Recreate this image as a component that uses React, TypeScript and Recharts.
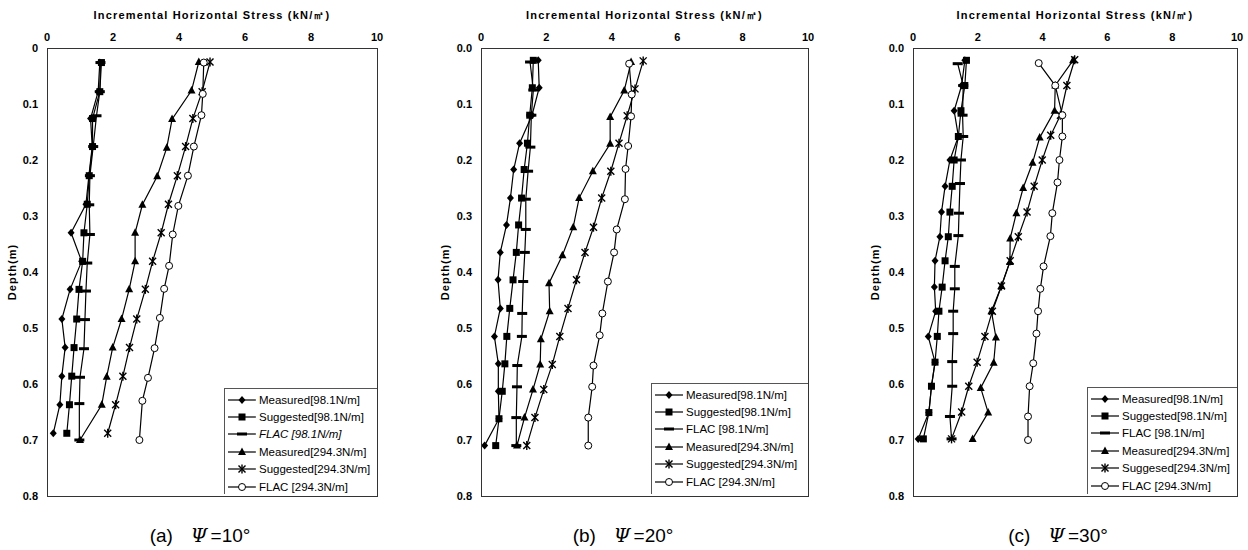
import { ScatterChart, Scatter, XAxis, YAxis } from 'recharts'

type Pt = [number, number] // [stress kN/m2, depth m]

// (a) psi = 10
const measured98A: Pt[] = [[1.6, 0.026], [1.55, 0.078], [1.32, 0.126], [1.37, 0.176], [1.27, 0.228], [1.18, 0.279], [0.73, 0.33], [1.05, 0.381], [0.7, 0.431], [0.45, 0.484], [0.55, 0.535], [0.45, 0.586], [0.39, 0.637], [0.19, 0.688]]
const suggested98A: Pt[] = [[1.65, 0.026], [1.6, 0.078], [1.38, 0.126], [1.38, 0.176], [1.28, 0.228], [1.22, 0.279], [1.12, 0.33], [1.08, 0.381], [0.97, 0.431], [0.9, 0.484], [0.82, 0.535], [0.75, 0.586], [0.68, 0.637], [0.6, 0.688]]
const flac98A: Pt[] = [[1.62, 0.026], [1.6, 0.078], [1.5, 0.121], [1.4, 0.176], [1.3, 0.228], [1.28, 0.28], [1.3, 0.333], [1.22, 0.384], [1.18, 0.434], [1.15, 0.485], [1.12, 0.537], [1.0, 0.588], [0.98, 0.635], [0.98, 0.7]]
const measured294A: Pt[] = [[4.6, 0.025], [4.38, 0.076], [3.79, 0.127], [3.63, 0.178], [3.34, 0.229], [2.89, 0.28], [2.67, 0.33], [2.67, 0.381], [2.49, 0.431], [2.26, 0.484], [1.99, 0.535], [1.81, 0.587], [1.66, 0.637], [1.0, 0.7]]
const suggested294A: Pt[] = [[4.94, 0.025], [4.7, 0.078], [4.42, 0.126], [4.2, 0.176], [3.95, 0.228], [3.68, 0.279], [3.46, 0.33], [3.2, 0.381], [2.98, 0.431], [2.72, 0.484], [2.5, 0.535], [2.3, 0.586], [2.08, 0.637], [1.84, 0.688]]
const flac294A: Pt[] = [[4.75, 0.026], [4.72, 0.082], [4.68, 0.12], [4.45, 0.176], [4.27, 0.228], [3.98, 0.282], [3.81, 0.333], [3.7, 0.389], [3.55, 0.43], [3.42, 0.482], [3.26, 0.536], [3.06, 0.589], [2.89, 0.63], [2.8, 0.7]]

// (b) psi = 20
const measured98B: Pt[] = [[1.75, 0.022], [1.78, 0.071], [1.56, 0.12], [1.18, 0.17], [1.0, 0.217], [0.9, 0.268], [0.78, 0.316], [0.59, 0.365], [0.52, 0.414], [0.59, 0.465], [0.41, 0.515], [0.53, 0.564], [0.53, 0.613], [0.55, 0.662], [0.11, 0.71]]
const suggested98B: Pt[] = [[1.6, 0.022], [1.57, 0.071], [1.49, 0.12], [1.42, 0.17], [1.32, 0.217], [1.24, 0.268], [1.15, 0.316], [1.08, 0.365], [0.98, 0.414], [0.88, 0.465], [0.79, 0.515], [0.73, 0.564], [0.65, 0.613], [0.55, 0.662], [0.45, 0.71]]
const flac98B: Pt[] = [[1.5, 0.025], [1.6, 0.075], [1.54, 0.12], [1.51, 0.177], [1.44, 0.22], [1.37, 0.27], [1.37, 0.324], [1.34, 0.365], [1.29, 0.417], [1.26, 0.474], [1.25, 0.515], [1.11, 0.567], [1.1, 0.605], [1.08, 0.66], [1.08, 0.71]]
const measured294B: Pt[] = [[4.59, 0.025], [4.38, 0.076], [3.95, 0.123], [3.95, 0.171], [3.42, 0.22], [3.0, 0.268], [2.82, 0.32], [2.49, 0.37], [2.08, 0.42], [2.1, 0.47], [1.83, 0.52], [1.81, 0.565], [1.59, 0.61], [1.33, 0.66], [1.1, 0.71]]
const suggested294B: Pt[] = [[4.96, 0.023], [4.71, 0.073], [4.47, 0.121], [4.22, 0.17], [3.97, 0.22], [3.69, 0.268], [3.44, 0.32], [3.18, 0.365], [2.92, 0.414], [2.66, 0.465], [2.41, 0.515], [2.18, 0.565], [1.92, 0.61], [1.65, 0.66], [1.4, 0.71]]
const flac294B: Pt[] = [[4.53, 0.028], [4.61, 0.083], [4.59, 0.122], [4.5, 0.175], [4.42, 0.216], [4.4, 0.27], [4.15, 0.324], [4.07, 0.365], [3.88, 0.417], [3.71, 0.474], [3.63, 0.513], [3.44, 0.567], [3.4, 0.605], [3.28, 0.66], [3.28, 0.71]]

// (c) psi = 30
const measured98C: Pt[] = [[1.6, 0.022], [1.5, 0.067], [1.27, 0.112], [1.4, 0.158], [1.14, 0.2], [0.99, 0.247], [0.88, 0.293], [0.83, 0.337], [0.68, 0.38], [0.66, 0.427], [0.7, 0.47], [0.47, 0.515], [0.68, 0.561], [0.57, 0.604], [0.49, 0.651], [0.16, 0.698]]
const suggested98C: Pt[] = [[1.65, 0.022], [1.6, 0.067], [1.48, 0.112], [1.4, 0.158], [1.27, 0.2], [1.21, 0.247], [1.14, 0.293], [1.09, 0.337], [0.99, 0.38], [0.9, 0.427], [0.8, 0.47], [0.75, 0.515], [0.68, 0.561], [0.57, 0.604], [0.49, 0.651], [0.32, 0.698]]
const flac98C: Pt[] = [[1.38, 0.028], [1.55, 0.067], [1.53, 0.12], [1.55, 0.158], [1.48, 0.2], [1.45, 0.242], [1.42, 0.295], [1.4, 0.335], [1.29, 0.39], [1.29, 0.43], [1.24, 0.47], [1.24, 0.51], [1.21, 0.56], [1.21, 0.604], [1.14, 0.658], [1.19, 0.698]]
const measured294C: Pt[] = [[4.94, 0.022], [4.39, 0.067], [4.37, 0.112], [3.91, 0.16], [3.69, 0.205], [3.4, 0.25], [3.19, 0.295], [3.0, 0.34], [2.99, 0.382], [2.73, 0.425], [2.42, 0.47], [2.56, 0.517], [2.49, 0.562], [2.09, 0.607], [2.32, 0.651], [1.84, 0.698]]
const suggested294C: Pt[] = [[4.99, 0.021], [4.75, 0.067], [4.55, 0.12], [4.25, 0.156], [3.99, 0.2], [3.74, 0.247], [3.52, 0.293], [3.25, 0.337], [3.0, 0.38], [2.73, 0.425], [2.45, 0.47], [2.22, 0.515], [1.98, 0.561], [1.72, 0.604], [1.5, 0.65], [1.19, 0.698]]
const flac294C: Pt[] = [[3.88, 0.027], [4.39, 0.067], [4.61, 0.12], [4.61, 0.158], [4.52, 0.2], [4.46, 0.24], [4.3, 0.295], [4.24, 0.336], [4.03, 0.39], [3.93, 0.43], [3.86, 0.47], [3.81, 0.51], [3.71, 0.563], [3.6, 0.604], [3.55, 0.658], [3.55, 0.7]]

const stressTicks = [0, 2, 4, 6, 8, 10]
const depthTicks = [0, 0.1, 0.2, 0.3, 0.4, 0.5, 0.6, 0.7, 0.8]
const labelsAB = ['Measured[98.1N/m]', 'Suggested[98.1N/m]', 'FLAC [98.1N/m]', 'Measured[294.3N/m]', 'Suggested[294.3N/m]', 'FLAC [294.3N/m]']
const labelsC = ['Measured[98.1N/m]', 'Suggested[98.1N/m]', 'FLAC [98.1N/m]', 'Measured[294.3N/m]', 'Suggesed[294.3N/m]', 'FLAC [294.3N/m]']
const markers = ['diamond', 'square', 'dash', 'triangle', 'star', 'circle']

const FONT = '"Liberation Sans", Arial, sans-serif'

function Marker({ kind, cx, cy }: { kind: string; cx: number; cy: number }) {
  switch (kind) {
    case 'diamond':
      return <polygon points={`${cx},${cy - 4} ${cx + 3.5},${cy} ${cx},${cy + 4} ${cx - 3.5},${cy}`} fill="#000" />
    case 'square':
      return <rect x={cx - 3.5} y={cy - 3.5} width={7} height={7} fill="#000" />
    case 'dash':
      return <rect x={cx - 5} y={cy - 1.5} width={10} height={3} fill="#000" />
    case 'triangle':
      return <polygon points={`${cx},${cy - 4.5} ${cx + 4},${cy + 3} ${cx - 4},${cy + 3}`} fill="#000" />
    case 'star':
      return (
        <g stroke="#000" strokeWidth={1.4}>
          <line x1={cx - 3.5} y1={cy - 3.5} x2={cx + 3.5} y2={cy + 3.5} />
          <line x1={cx - 3.5} y1={cy + 3.5} x2={cx + 3.5} y2={cy - 3.5} />
          <line x1={cx} y1={cy - 4.5} x2={cx} y2={cy + 4.5} />
        </g>
      )
    default:
      return <circle cx={cx} cy={cy} r={3.5} fill="#fff" stroke="#000" strokeWidth={1} />
  }
}

interface PanelProps {
  left: number
  width: number
  plotLeft: number
  plotRight: number
  series: Pt[][]
  labels: string[]
  italicFlac?: boolean
  zeroLabel: string
  depthLabelX: number
  legendLeft: number
  legendTop: number
  caption: string
  angle: string
  captionCenter: number
}

function Panel(p: PanelProps) {
  const plotTop = 48
  const plotBottom = 496
  const yWidth = p.plotLeft - p.left
  const right = p.width - (p.plotRight - p.left)
  return (
    <>
      <div style={{ position: 'absolute', left: p.left, top: 0 }}>
        <ScatterChart width={p.width} height={550} margin={{ top: 18, right, bottom: 550 - plotBottom, left: 0 }}>
          <XAxis
            type="number"
            dataKey="x"
            orientation="top"
            domain={[0, 10]}
            ticks={stressTicks}
            height={plotTop - 18}
            axisLine={false}
            tickLine={false}
            tickSize={5}
            tickMargin={2}
            allowDataOverflow
            tick={{ fontSize: 11, fill: '#000', fontWeight: 'bold', fontFamily: FONT }}
          />
          <YAxis
            type="number"
            dataKey="y"
            domain={[0, 0.8]}
            reversed
            ticks={depthTicks}
            width={yWidth}
            axisLine={false}
            tickLine={false}
            tickSize={4}
            tickMargin={5}
            allowDataOverflow
            tickFormatter={(v: number) => (v === 0 ? p.zeroLabel : v.toFixed(1))}
            tick={{ fontSize: 11, fill: '#000', fontWeight: 'bold', fontFamily: FONT }}
          />
          {p.series.map((pts, i) => (
            <Scatter
              key={i}
              name={p.labels[i]}
              data={pts.map(([x, y]) => ({ x, y }))}
              fill="#000"
              line={{ stroke: '#000', strokeWidth: 1.2 }}
              lineType="joint"
              isAnimationActive={false}
              shape={(s: any) => <Marker kind={markers[i]} cx={s.cx} cy={s.cy} />}
            />
          ))}
        </ScatterChart>
      </div>
      {/* plot frame */}
      <div
        style={{
          position: 'absolute',
          left: p.plotLeft,
          top: plotTop,
          width: p.plotRight - p.plotLeft + 1,
          height: plotBottom - plotTop + 1,
          border: '1.3px solid #333',
          boxSizing: 'border-box',
          pointerEvents: 'none',
        }}
      />
      <div
        style={{
          position: 'absolute',
          left: p.plotLeft,
          width: p.plotRight - p.plotLeft,
          top: 8,
          textAlign: 'center',
          fontFamily: FONT,
          fontWeight: 'bold',
          fontSize: 11,
          letterSpacing: 1.2,
          whiteSpace: 'nowrap',
        }}
      >
        Incremental Horizontal Stress (kN/㎡)
      </div>
      <div
        style={{
          position: 'absolute',
          left: p.depthLabelX - 40,
          top: 266,
          width: 80,
          textAlign: 'center',
          transform: 'rotate(-90deg)',
          fontFamily: FONT,
          fontWeight: 'bold',
          fontSize: 11,
          letterSpacing: 1,
        }}
      >
        Depth(m)
      </div>
      <div
        style={{
          position: 'absolute',
          left: p.legendLeft,
          top: p.legendTop,
          width: p.plotRight - p.legendLeft,
          height: plotBottom - p.legendTop - 2,
          border: '1px solid #555',
          borderRight: 'none',
          borderBottom: 'none',
          background: '#fff',
          boxSizing: 'border-box',
          padding: '2px 0 0 3px',
        }}
      >
        {p.labels.map((label, i) => (
          <div key={label} style={{ display: 'flex', alignItems: 'center', height: 17.4 }}>
            <svg width={30} height={12}>
              <line x1={0} y1={6} x2={28} y2={6} stroke="#000" strokeWidth={1.2} />
              <Marker kind={markers[i]} cx={14} cy={6} />
            </svg>
            <span
              style={{
                fontFamily: FONT,
                fontSize: 11.5,
                fontStyle: p.italicFlac && i === 2 ? 'italic' : 'normal',
                whiteSpace: 'nowrap',
                marginLeft: 1,
              }}
            >
              {label}
            </span>
          </div>
        ))}
      </div>
      <div
        style={{
          position: 'absolute',
          left: p.captionCenter - 90,
          width: 180,
          top: 524,
          textAlign: 'center',
          fontFamily: FONT,
          fontSize: 19,
          whiteSpace: 'nowrap',
        }}
      >
        {p.caption}
        <span style={{ marginLeft: 18, marginRight: 3, fontStyle: 'italic', fontFamily: '"DejaVu Serif", serif' }}>Ψ</span>
        {'=' + p.angle + '°'}
      </div>
    </>
  )
}

export default function App() {
  return (
    <div style={{ position: 'absolute', left: 0, top: 0, width: 1248, height: 550, background: '#fff', overflow: 'hidden' }}>
      <Panel
        left={0}
        width={405}
        plotLeft={47}
        plotRight={377}
        series={[measured98A, suggested98A, flac98A, measured294A, suggested294A, flac294A]}
        labels={labelsAB}
        italicFlac
        zeroLabel="0"
        depthLabelX={12}
        legendLeft={224}
        legendTop={388}
        caption="(a)"
        angle="10"
        captionCenter={200}
      />
      <Panel
        left={410}
        width={415}
        plotLeft={481}
        plotRight={808}
        series={[measured98B, suggested98B, flac98B, measured294B, suggested294B, flac294B]}
        labels={labelsAB}
        zeroLabel="0.0"
        depthLabelX={445}
        legendLeft={651}
        legendTop={383}
        caption="(b)"
        angle="20"
        captionCenter={623}
      />
      <Panel
        left={828}
        width={420}
        plotLeft={913}
        plotRight={1237}
        series={[measured98C, suggested98C, flac98C, measured294C, suggested294C, flac294C]}
        labels={labelsC}
        zeroLabel="0.0"
        depthLabelX={875}
        legendLeft={1087}
        legendTop={387}
        caption="(c)"
        angle="30"
        captionCenter={1058}
      />
    </div>
  )
}
